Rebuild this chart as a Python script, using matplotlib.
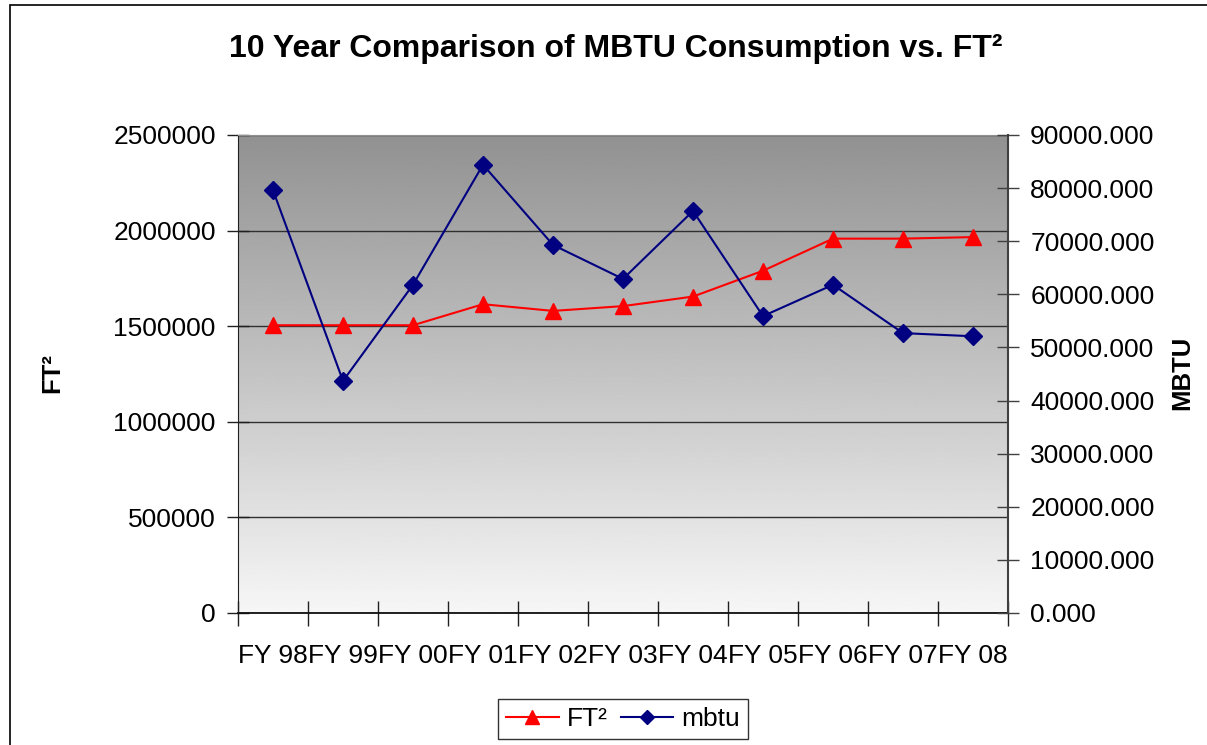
import numpy as np
import matplotlib
matplotlib.use("Agg")
import matplotlib.pyplot as plt
from matplotlib.patches import Rectangle
from matplotlib.ticker import FixedLocator, FormatStrFormatter

plt.rcParams['font.family'] = ['Liberation Sans', 'DejaVu Sans']

years = ["FY 98", "FY 99", "FY 00", "FY 01", "FY 02", "FY 03",
         "FY 04", "FY 05", "FY 06", "FY 07", "FY 08"]
ft2 = [1505000, 1505000, 1505000, 1615000, 1580000, 1605000,
       1655000, 1790000, 1958000, 1958000, 1966000]
mbtu = [79600, 43700, 61800, 84400, 69300, 62900,
        75700, 55900, 61800, 52700, 52100]

W, H = 1207, 745
fig = plt.figure(figsize=(W / 100, H / 100), dpi=100)
fig.patch.set_facecolor("white")

# plot area in pixels
x0, x1, y0, y1 = 238, 1008, 135, 613
ax = fig.add_axes([x0 / W, 1 - y1 / H, (x1 - x0) / W, (y1 - y0) / H])

# grey gradient background
grad = np.linspace(0.965, 0.57, 256).reshape(-1, 1)
ax.imshow(grad, extent=(0, 1, 0, 1), transform=ax.transAxes, cmap="gray",
          vmin=0, vmax=1, aspect="auto", origin="lower", zorder=0)

x = np.arange(len(years))
ax.plot(x, ft2, color="#ff0000", lw=1.5, marker="^", markersize=12,
        label="FT²", zorder=3)
ax.set_xlim(-0.5, len(years) - 0.5)
ax.set_ylim(0, 2500000)
ax.set_yticks(np.arange(0, 2500001, 500000))
ax.yaxis.set_major_formatter(FormatStrFormatter("%d"))
ax.yaxis.grid(True, color="#303030", lw=1.0)
ax.set_axisbelow(True)

ax.xaxis.set_major_locator(FixedLocator(np.arange(-0.5, len(years), 1.0)))
ax.xaxis.set_minor_locator(FixedLocator(x))
ax.set_xticklabels([], minor=False)
ax.set_xticklabels(years, minor=True)
ax.tick_params(axis="x", which="major", direction="inout", length=18, width=1, color="#202020")
ax.tick_params(axis="x", which="minor", length=0, pad=22, labelsize=19)
ax.tick_params(axis="y", direction="inout", length=16, width=1, pad=8, labelsize=19, color="#202020")

ax.spines["top"].set_color("#909090")
ax.spines["right"].set_visible(False)
ax.spines["left"].set_color("#202020")
ax.spines["bottom"].set_color("#101010")
ax.spines["bottom"].set_linewidth(1.3)

ax2 = ax.twinx()
ax2.plot(x, mbtu, color="#000080", lw=1.5, marker="D", markersize=9,
         label="mbtu", zorder=4)
ax2.set_ylim(0, 90000)
ax2.set_yticks(np.arange(0, 90001, 10000))
ax2.yaxis.set_major_formatter(FormatStrFormatter("%.3f"))
ax2.tick_params(axis="y", direction="inout", length=16, width=1, pad=8, labelsize=19, color="#404040")
for s in ["top", "left", "bottom"]:
    ax2.spines[s].set_visible(False)
ax2.spines["right"].set_color("#404040")
ax2.spines["right"].set_linewidth(1.5)

fig.text(616 / W, 1 - 49 / H, "10 Year Comparison of MBTU Consumption vs. FT²",
         ha="center", va="center", fontsize=23, fontweight="bold")
fig.text(52 / W, 1 - 373 / H, "FT²", rotation=90, ha="center", va="center",
         fontsize=18.5, fontweight="bold")
fig.text(1182 / W, 1 - 373 / H, "MBTU", rotation=90, ha="center", va="center",
         fontsize=18.5, fontweight="bold")

h1, l1 = ax.get_legend_handles_labels()
h2, l2 = ax2.get_legend_handles_labels()
leg = fig.legend(h1 + h2, l1 + l2, loc="center", bbox_to_anchor=(623 / W, 1 - 719 / H),
                 ncol=2, fontsize=19, frameon=True, fancybox=False, shadow=False,
                 handlelength=2.0, columnspacing=0.5, handletextpad=0.3,
                 borderpad=0.3, markerscale=0.8)
leg.get_frame().set_edgecolor("black")
leg.get_frame().set_linewidth(1.0)

# outer chart border (cut off at right and bottom)
fig.patches.append(Rectangle((10 / W, -0.02), 1.05, 1 - 5 / H + 0.02,
                             transform=fig.transFigure, fill=False,
                             edgecolor="black", lw=1.2))

fig.savefig("out.png", dpi=100)
